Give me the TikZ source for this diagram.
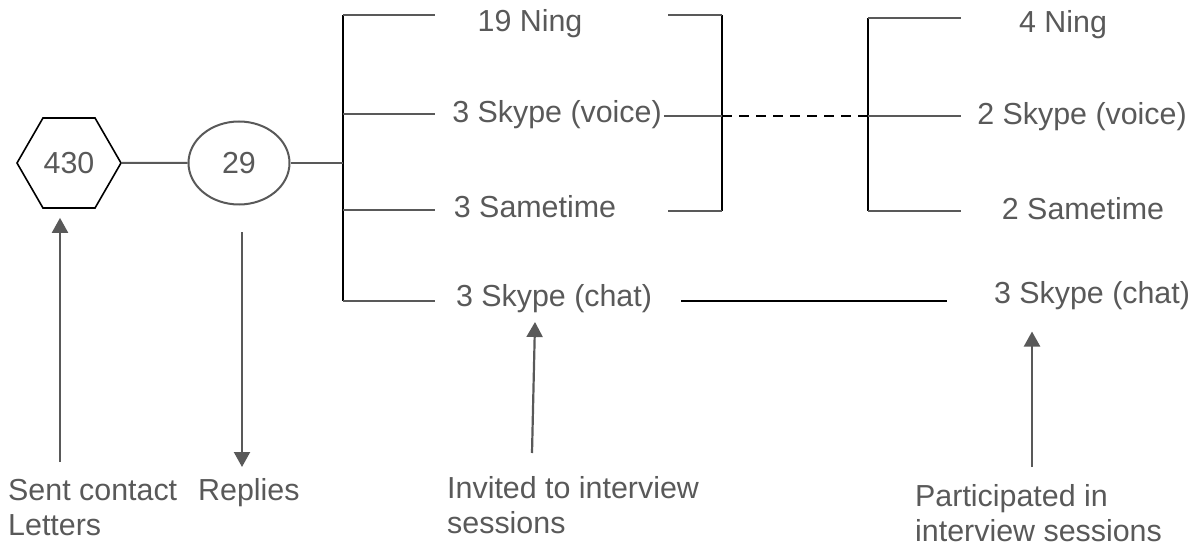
\documentclass[tikz,border=0pt]{standalone}
\usepackage{fontspec}
\setmainfont{Liberation Sans}
\usepackage{tikz}
\usetikzlibrary{shapes.geometric,arrows.meta}
\definecolor{txtgray}{HTML}{595959}

\begin{document}
\begin{tikzpicture}[x=1pt, y=-1pt,
  lbl/.style={text=txtgray, font=\fontsize{30.4}{34.5}\selectfont, inner sep=2pt},
  branch/.style={txtgray, line width=2pt},
  spine/.style={black, line width=2pt},
  pointer/.style={txtgray, line width=2.2pt, -{Triangle[length=15pt,width=16pt]}}]
\useasboundingbox (0,0) rectangle (1201,545);

\node[lbl, draw=black, line width=1.6pt, regular polygon, regular polygon sides=6, minimum size=104pt, inner sep=0pt] (sent) at (69,163) {430};
\node[lbl, draw=txtgray, line width=2pt, ellipse, minimum width=101pt, minimum height=83pt, inner sep=0pt] (reply) at (239,163) {29};
\draw[branch] (sent.east) -- (reply.west);

% invited
\node[lbl, anchor=base] (ning) at (530,32) {19 Ning};
\node[lbl, anchor=base] (voice) at (557,123) {3 Skype (voice)};
\node[lbl, anchor=base] (same) at (535,218) {3 Sametime};
\node[lbl, anchor=base] (chat) at (554,306) {3 Skype (chat)};

% participated
\node[lbl, anchor=base] (ning2) at (1063,33) {4 Ning};
\node[lbl, anchor=base] (voice2) at (1082,125) {2 Skype (voice)};
\node[lbl, anchor=base] (same2) at (1083,220) {2 Sametime};
\node[lbl, anchor=base] (chat2) at (1092,303) {3 Skype (chat)};

% left bracket
\coordinate (L1) at (343,15);
\coordinate (L2) at (343,114);
\coordinate (L3) at (343,210);
\coordinate (L4) at (343,301);
\coordinate (Lend) at (435,0);
\draw[spine] (L1) -- (L4);
\draw[branch] (L1) -- (L1 -| Lend);
\draw[branch] (L2) -- (L2 -| Lend);
\draw[branch] (L3) -- (L3 -| Lend);
\draw[branch] (L4) -- (L4 -| Lend);
\draw[branch] (reply.east) -- (reply.east -| L1);

% middle bracket
\coordinate (M1) at (722,15);
\coordinate (M2) at (722,116);
\coordinate (M3) at (722,211);
\coordinate (Mend) at (668,0);
\draw[spine] (M1) -- (M3);
\draw[branch] (M1 -| Mend) -- (M1);
\draw[branch] (voice.east |- M2) -- (M2);
\draw[branch] (M3 -| Mend) -- (M3);

% right bracket
\coordinate (R1) at (868,18);
\coordinate (R2) at (868,116);
\coordinate (R3) at (868,211);
\coordinate (Rend) at (961,0);
\draw[spine] (R1) -- (R3);
\draw[branch] (R1) -- (R1 -| Rend);
\draw[branch] (R2) -- (R2 -| Rend);
\draw[branch] (R3) -- (R3 -| Rend);

\draw[spine, dash pattern=on 10pt off 7pt] (M2) -- (R2);
\draw[spine, shorten <=27pt, shorten >=45pt] (chat.east |- L4) -- (chat2.west |- L4);

% captions (base = last line)
\node[lbl, anchor=base west, align=left] (sentlbl) at (6,535) {Sent contact\\Letters};
\node[lbl, anchor=base west] (replylbl) at (196,500) {Replies};
\node[lbl, anchor=base west, align=left] (invlbl) at (445,533) {Invited to interview\\sessions};
\node[lbl, anchor=base west, align=left] (partlbl) at (913,541) {Participated in\\interview sessions};

\coordinate (sentfoot) at (60,462);
\coordinate (replyfoot) at (242,467);
\coordinate (invfoot) at (532,453);
\coordinate (invtip) at (535,322);
\coordinate (partfoot) at (1032,467);
\draw[pointer, shorten >=9pt] (sentfoot) -- (sent.south -| sentfoot);
\draw[pointer, shorten <=27pt] (reply.south -| replyfoot) -- (replyfoot);
\draw[pointer] (invfoot) -- (invtip);
\draw[pointer, shorten >=20pt] (partfoot) -- (chat2.south -| partfoot);
\end{tikzpicture}
\end{document}
